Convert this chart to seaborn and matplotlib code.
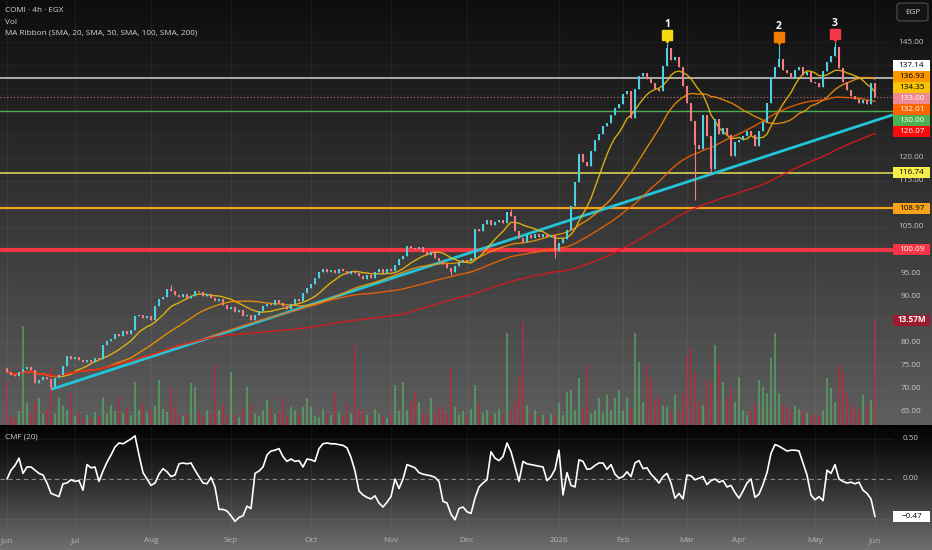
import numpy as np
import pandas as pd
import matplotlib
matplotlib.use("Agg")
import matplotlib.pyplot as plt
import seaborn as sns
from matplotlib import transforms
from matplotlib.colors import LinearSegmentedColormap
from matplotlib.patches import Rectangle, FancyBboxPatch

# ---- values (one candle here is about two 4h bars) ----
month_names = ["Jun", "Jul", "Aug", "Sep", "Oct", "Nov", "Dec",
               "2026", "Feb", "Mar", "Apr", "May", "Jun"]
month_first_bar = [0, 17, 36, 56, 76, 96, 115, 138, 154, 170, 183, 202, 217]

first_open = 74.5
closes = [
    # Jun
    73.6, 73.0, 72.8, 73.5, 74.3, 74.6, 74.0, 71.2, 71.8, 72.4, 72.0, 70.3,
    72.2, 73.0, 74.9, 77.0, 76.4,
    # Jul
    76.8, 76.2, 75.7, 76.1, 75.8, 76.5, 76.3, 79.4, 80.3, 80.8, 81.9, 81.4,
    82.4, 81.9, 82.6, 85.6, 86.0, 85.3, 85.8,
    # Aug
    84.9, 87.8, 89.3, 89.9, 91.6, 91.0, 90.2, 89.7, 90.4, 89.5, 90.1, 91.2,
    90.9, 90.0, 90.4, 89.5, 89.0, 89.4, 88.0, 87.3,
    # Sep
    87.6, 86.5, 86.9, 85.6, 85.9, 84.8, 86.0, 86.8, 87.9, 88.4, 88.1, 89.2,
    88.6, 87.9, 87.2, 88.3, 89.4, 89.0, 90.6, 91.8,
    # Oct
    92.6, 94.0, 95.3, 95.8, 95.2, 95.7, 95.1, 95.9, 95.4, 94.8, 95.5, 95.0,
    94.3, 93.8, 94.6, 94.0, 95.2, 95.8, 95.0, 95.9,
    # Nov
    95.4, 96.8, 98.0, 98.6, 100.9, 100.5, 100.1, 100.7, 99.6, 99.0, 99.5,
    98.3, 97.6, 96.9, 96.0, 95.2, 96.6, 97.3, 97.9,
    # Dec
    97.6, 98.2, 104.6, 104.0, 105.6, 106.4, 105.3, 106.0, 106.5, 105.8, 108.3,
    107.4, 104.0, 102.5, 101.8, 103.2, 102.6, 103.5, 102.8, 103.4, 102.9,
    103.3, 99.8,
    # Jan
    101.6, 102.4, 104.3, 109.5, 114.7, 120.8, 119.0, 118.2, 121.4, 123.8,
    125.2, 126.8, 127.5, 129.3, 130.8, 131.5,
    # Feb
    133.8, 134.4, 128.6, 134.9, 137.6, 138.4, 137.1, 136.2, 134.9, 134.3,
    139.8, 143.8, 141.2, 141.8, 139.6, 135.4,
    # Mar
    131.8, 128.0, 122.8, 121.8, 129.2, 124.6, 117.6, 128.4, 125.2, 126.3,
    124.8, 120.3, 123.4,
    # Apr
    123.9, 124.6, 125.8, 124.9, 122.6, 125.8, 127.6, 131.8, 137.4, 139.6,
    141.3, 139.0, 138.4, 137.2, 138.9, 139.5, 137.8, 138.6, 136.4,
    # May
    136.1, 135.2, 138.8, 140.6, 141.9, 143.9, 139.4, 136.3, 134.6, 133.4,
    132.6, 131.7, 132.5, 131.6, 136.2,
    # Jun
    133.0,
]
wick_high = {41: 92.3, 126: 108.9, 165: 144.8, 193: 144.3, 207: 145.0}
wick_low = {11: 69.8, 111: 94.6, 137: 98.2, 172: 110.8, 176: 116.4}

volume_m = [
    5.5, 1.2, 0.9, 1.8, 12.8, 2.8, 1.5, 3.0, 3.5, 1.4, 2.0, 7.4, 1.6, 3.6,
    2.4, 1.9, 4.3,
    1.1, 1.5, 0.9, 1.3, 0.8, 1.7, 1.2, 3.6, 1.4, 2.6, 1.8, 3.5, 1.6, 2.2,
    1.3, 5.5, 2.0, 2.8, 1.5,
    1.9, 2.5, 5.8, 2.1, 1.7, 4.9, 2.3, 1.4, 1.1, 1.6, 5.4, 4.9, 1.8, 1.2,
    2.0, 1.5, 7.7, 1.9, 2.6, 1.4,
    6.8, 1.3, 1.0, 2.2, 4.9, 2.8, 1.5, 1.1, 1.9, 3.2, 2.3, 1.4, 1.7, 3.5,
    1.2, 2.3, 1.9, 1.5, 2.3, 3.5,
    2.3, 1.2, 1.0, 2.1, 1.4, 1.3, 4.3, 1.6, 1.1, 2.8, 1.5, 10.3, 1.9, 2.0,
    1.3, 1.0, 2.1, 1.4, 1.2, 0.9,
    1.5, 5.2, 1.8, 5.6, 2.0, 3.0, 4.3, 3.0, 1.6, 1.3, 3.5, 1.7, 2.2, 2.4,
    1.5, 7.5, 2.3, 1.4, 1.8,
    1.2, 2.1, 5.2, 2.9, 1.6, 1.9, 1.3, 1.5, 2.1, 1.4, 11.9, 1.8, 3.2, 6.2,
    13.3, 2.6, 1.5, 1.9, 1.1, 1.3, 0.9, 1.4, 1.2,
    2.8, 1.3, 4.3, 4.5, 2.0, 6.1, 2.2, 7.7, 1.5, 1.9, 3.5, 1.6, 3.9, 2.0,
    3.5, 4.5,
    1.8, 3.6, 2.2, 11.9, 8.1, 3.0, 7.7, 6.1, 3.2, 3.9, 2.5, 2.3, 1.8, 3.9,
    2.0, 4.1,
    9.0, 10.1, 6.7, 3.0, 2.6, 5.8, 5.5, 10.3, 8.1, 5.5, 3.6, 4.8, 3.0,
    6.2, 2.0, 1.3, 1.9, 2.8, 5.8, 4.9, 4.1, 8.6, 11.9, 4.1, 2.6, 2.3, 1.9,
    2.4, 2.1, 1.8, 1.6, 1.4,
    1.2, 1.3, 2.0, 6.1, 4.8, 3.0, 7.7, 6.8, 4.3, 2.8, 2.2, 1.9, 3.9, 2.4,
    3.2,
    13.57,
]

cmf_values = [
    0.00, 0.11, 0.17, 0.26, 0.07, 0.15, 0.15, 0.11, 0.07, 0.05, -0.05, -0.18,
    -0.20, -0.22, -0.06, -0.05, -0.01,
    -0.03, -0.02, -0.14, 0.18, 0.14, 0.15, -0.03, 0.10, 0.21, 0.30, 0.40,
    0.45, 0.44, 0.47, 0.50, 0.54, 0.30, 0.08, 0.00,
    -0.08, -0.05, 0.06, 0.13, 0.09, 0.03, 0.05, 0.19, 0.20, 0.19, 0.20, 0.11,
    0.03, -0.05, -0.06, 0.02, -0.10, -0.38, -0.38, -0.40,
    -0.46, -0.53, -0.48, -0.46, -0.34, -0.37, 0.07, 0.10, 0.15, 0.30, 0.35,
    0.36, 0.38, 0.28, 0.22, 0.25, 0.22, 0.23, 0.15, 0.25,
    0.24, 0.22, 0.38, 0.44, 0.45, 0.44, 0.44, 0.43, 0.42, 0.39, 0.27, 0.10,
    -0.15, -0.20, -0.23, -0.25, -0.21, -0.30, -0.35, -0.29,
    -0.22, 0.00, -0.12, 0.00, 0.18, 0.16, 0.14, 0.08, 0.06, 0.05, 0.04, 0.02,
    -0.03, -0.28, -0.30, -0.44, -0.51, -0.37, -0.35,
    -0.41, -0.43, -0.24, -0.10, -0.05, -0.01, 0.34, 0.26, 0.23, 0.28, 0.45,
    0.34, 0.16, -0.03, 0.22, 0.19, 0.18, 0.17, 0.16, 0.15, -0.02, 0.03, 0.12,
    0.36, -0.20, 0.08, -0.08, -0.10, 0.24, 0.22, 0.12, 0.13, 0.17, 0.20,
    0.20, 0.12, 0.18, 0.06, 0.01,
    0.03, 0.09, 0.03, 0.20, 0.23, 0.13, 0.14, 0.06, 0.01, -0.05, 0.03, 0.07,
    -0.05, -0.24, -0.18, -0.25,
    0.05, 0.04, -0.01, 0.01, 0.03, -0.07, -0.02, 0.00, -0.04, -0.02, -0.10,
    -0.08, -0.17,
    -0.24, -0.15, -0.05, 0.00, -0.23, -0.19, -0.07, 0.08, 0.32, 0.43, 0.41,
    0.38, 0.35, 0.36, 0.36, 0.35, 0.20, 0.05, -0.20,
    -0.26, -0.22, -0.27, 0.11, 0.07, 0.18, 0.00, -0.03, -0.05, -0.04, -0.06,
    -0.04, -0.14, -0.18, -0.25,
    -0.47,
]

ribbon_periods = [20, 50, 100, 200]
ribbon_last = [134.35, 136.93, 132.01, 126.07]
levels = [137.14, 130.00, 116.74, 108.97, 100.09]
last_price = 133.00
last_volume = 13.57
last_cmf = -0.47

trend_bars = [11, 176]
trend_prices = [69.8, 116.4]

flag_bars = [165, 193, 207]
flag_names = ["1", "2", "3"]

# ---- styling ----
UP, DOWN = "#4dd0e1", "#f77c80"
ribbon_colors = ["#f6c309", "#fb9800", "#fb6500", "#e8141c"]
ribbon_fg = ["#000000", "#000000", "#ffffff", "#ffffff"]
level_colors = ["#c4c4c4", "#4caf50", "#d6cf56", "#f5a21b", "#f23645"]
level_widths = [1.2, 1.0, 1.2, 1.6, 3.0]
level_bg = ["#ffffff", "#4caf50", "#f5ee4a", "#f7a21b", "#f23645"]
level_fg = ["#000000", "#ffffff", "#000000", "#000000", "#ffffff"]
flag_colors = ["#f5d90a", "#f57c00", "#f23645"]

W, H = 932, 550
PANE_BOT, CMF_TOP, CMF_BOT = 425, 427, 530
PLOT_RIGHT, BAR0_X, BAR_PX = 893, 7, 4
TAG_L, TAG_R = 893, 930
FS = 5.9

sns.set_theme(style="dark")
plt.rcParams["font.family"] = ["Open Sans", "DejaVu Sans"]


def fx(px):
    return px / W


def fy(py):
    return 1 - py / H


df = pd.DataFrame({"bar": np.arange(len(closes)), "close": closes,
                   "volume": volume_m, "cmf": cmf_values})
df["open"] = [first_open] + closes[:-1]
df["up"] = df["close"] >= df["open"]
df["high"] = df[["open", "close"]].max(axis=1)
df["low"] = df[["open", "close"]].min(axis=1)
for b, v in wick_high.items():
    df.loc[b, "high"] = v
for b, v in wick_low.items():
    df.loc[b, "low"] = v

fig = plt.figure(figsize=(W / 100, H / 100), dpi=100, facecolor="#000000")


def gradient(y0, y1, c0, c1, gamma=1.0):
    bg = fig.add_axes([0, fy(y1), 1, (y1 - y0) / H], label=f"bg{y0}")
    bg.set_axis_off()
    g = np.linspace(0, 1, 256)[:, None] ** gamma
    cmap = LinearSegmentedColormap.from_list(f"g{y0}", [c0, c1])
    bg.imshow(g, aspect="auto", cmap=cmap, extent=[0, 1, 0, 1],
              origin="upper", vmin=0, vmax=1)
    bg.set_zorder(-10)


gradient(0, PANE_BOT, "#0d0d0d", "#5e5e5e")
gradient(CMF_TOP, H, "#050505", "#707070", gamma=1.25)

rect_main = [0, fy(PANE_BOT), fx(PLOT_RIGHT), PANE_BOT / H]
rect_cmf = [0, fy(CMF_BOT), fx(PLOT_RIGHT), (CMF_BOT - CMF_TOP) / H]
xlim = (-BAR0_X / BAR_PX, (PLOT_RIGHT - BAR0_X) / BAR_PX)
price_lim = (62.1, 154.1)
vol_lim = (0, last_volume * PANE_BOT / 105)
cmf_lim = (-0.6375, 0.65)

vax = fig.add_axes(rect_main, label="vol")
ax = fig.add_axes(rect_main, label="price")
cax = fig.add_axes(rect_cmf, label="cmf")
for a in (vax, ax, cax):
    a.set_facecolor("none")
    a.set_xlim(*xlim)
    a.set_xticks([])
    a.set_yticks([])
    a.grid(False)
    for s in a.spines.values():
        s.set_visible(False)
ax.set_ylim(*price_lim)
vax.set_ylim(*vol_lim)
cax.set_ylim(*cmf_lim)

# grid
for b in month_first_bar:
    ax.axvline(b, color="white", alpha=0.05, lw=1, zorder=0)
    cax.axvline(b, color="white", alpha=0.05, lw=1, zorder=0)
for p in range(65, 150, 5):
    ax.axhline(p, color="white", alpha=0.035, lw=1, zorder=0)
for v in (0.5, -0.5):
    cax.axhline(v, color="white", alpha=0.05, lw=1, zorder=0)

# volume
vol_colors = [(0.33, 0.72, 0.40, 0.6) if u else (0.72, 0.16, 0.24, 0.72)
              for u in df["up"]]
vax.bar(df["bar"], df["volume"], width=0.42, color=vol_colors,
        linewidth=0, zorder=1)

# horizontal levels and last price line
for lv, c, lw in zip(levels, level_colors, level_widths):
    ax.axhline(lv, color=c, lw=lw, zorder=2)
ax.axhline(last_price, color="#f08a93", lw=0.8, ls=(0, (1, 2)), alpha=0.8,
           zorder=2)

# trend line from the two anchors, carried to the right edge
slope = (trend_prices[1] - trend_prices[0]) / (trend_bars[1] - trend_bars[0])
x_end = xlim[1]
ax.plot([trend_bars[0], x_end],
        [trend_prices[0], trend_prices[0] + slope * (x_end - trend_bars[0])],
        color="#22c4d8", lw=2, zorder=3, solid_capstyle="butt")

# MA ribbon (periods halved because each candle holds ~two 4h bars)
for period, c in zip(ribbon_periods, ribbon_colors):
    sma = df["close"].rolling(period // 2, min_periods=1).mean()
    sns.lineplot(x=df["bar"], y=sma, ax=ax, color=c, lw=1.0, alpha=0.85,
                 zorder=3)

# candles
cols = [UP if u else DOWN for u in df["up"]]
ax.vlines(df["bar"], df["low"], df["high"], colors=cols, lw=0.8, zorder=4)
body = (df["close"] - df["open"]).where(
    (df["close"] - df["open"]).abs() > 0.2, 0.2)
ax.bar(df["bar"], body, bottom=df["open"], width=0.62, color=cols,
       linewidth=0, zorder=4)

# flags above the three tops
for b, name, c in zip(flag_bars, flag_names, flag_colors):
    y = df.loc[b, "high"] + 1.7
    ax.plot(b, y, marker="s", ms=6.5, color=c, mec=c, zorder=6)
    ax.plot(b, y - 1.1, marker="v", ms=3.5, color=c, mec=c, zorder=6)
    ax.text(b, y + 2.4, name, ha="center", va="center", color="white",
            fontsize=7.5, fontweight="bold", zorder=6)

# CMF
cax.axhline(0, color="#8c8c8c", lw=0.8, ls=(0, (4, 3)), zorder=1)
sns.lineplot(x=df["bar"], y=df["cmf"], ax=cax, color="white", lw=1.2,
             zorder=3)

for a in (vax, ax, cax):
    a.set_xlabel("")
    a.set_ylabel("")
    a.set_autoscale_on(False)
ax.set_xlim(*xlim)
ax.set_ylim(*price_lim)
vax.set_xlim(*xlim)
vax.set_ylim(*vol_lim)
cax.set_xlim(*xlim)
cax.set_ylim(*cmf_lim)


def stack(values, gap):
    order = sorted(range(len(values)), key=lambda k: -values[k])
    groups = [[k] for k in order]

    def place(g):
        c = np.mean([values[k] for k in g])
        return [c + gap * ((len(g) - 1) / 2 - j) for j in range(len(g))]

    merged = True
    while merged:
        merged = False
        for i in range(len(groups) - 1):
            if place(groups[i])[-1] - place(groups[i + 1])[0] < gap:
                groups[i] = groups[i] + groups[i + 1]
                del groups[i + 1]
                merged = True
                break
    pos = [0.0] * len(values)
    for g in groups:
        for k, p in zip(g, place(g)):
            pos[k] = p
    return pos


def tag(axis, y, text, bg, fg, h, bold=False):
    tr = transforms.blended_transform_factory(fig.transFigure, axis.transData)
    axis.add_patch(Rectangle((fx(TAG_L), y - h / 2), fx(TAG_R) - fx(TAG_L),
                             h, transform=tr, facecolor=bg, edgecolor="none",
                             clip_on=False, zorder=20))
    axis.text(fx((TAG_L + TAG_R) / 2), y, text, transform=tr, ha="center",
              va="center", color=fg, fontsize=FS, clip_on=False, zorder=21,
              fontweight="bold" if bold else "normal")


# right side tags, stacked the way the price scale does it
tag_vals = levels + ribbon_last + [last_price]
tag_bg = level_bg + ribbon_colors[:3] + ["#f60c0c", "#f08a93"]
tag_fg = level_fg + ribbon_fg + ["#ffffff"]
px_per_price = PANE_BOT / (price_lim[1] - price_lim[0])
tag_h = 11 / px_per_price
tag_pos = stack(tag_vals, tag_h)
for y, v, bg, fg in zip(tag_pos, tag_vals, tag_bg, tag_fg):
    tag(ax, y, f"{v:.2f}", bg, fg, tag_h)

vol_h = 11 * (vol_lim[1] - vol_lim[0]) / PANE_BOT
tag(vax, last_volume, f"{last_volume:.2f}M", "#9c1a2e", "#ffffff", vol_h,
    bold=True)
vol_tag_price = price_lim[0] + last_volume / vol_lim[1] * (
    price_lim[1] - price_lim[0])

# right price scale, hiding ticks that sit under a tag
ptr = transforms.blended_transform_factory(fig.transFigure, ax.transData)
covered = tag_pos + [vol_tag_price]
for p in range(65, 147, 5):
    if min(abs(p - c) for c in covered) * px_per_price < 7.5:
        continue
    ax.text(fx(911), p, f"{p:.2f}", transform=ptr, ha="center", va="center",
            color="#c6c6c6", fontsize=FS, clip_on=False, zorder=15)

ctr = transforms.blended_transform_factory(fig.transFigure, cax.transData)
for v in (0.5, 0.0):
    cax.text(fx(911), v, f"{v:.2f}", transform=ctr, ha="center",
             va="center", color="#c6c6c6", fontsize=FS, clip_on=False)
cmf_h = 11 * (cmf_lim[1] - cmf_lim[0]) / (CMF_BOT - CMF_TOP)
tag(cax, last_cmf, f"\u2212{abs(last_cmf):.2f}", "#ffffff", "#000000", cmf_h)

# time axis
ttr = transforms.blended_transform_factory(cax.transData, fig.transFigure)
for name, b in zip(month_names, month_first_bar):
    cax.text(b, fy(541), name, transform=ttr, ha="center", va="center",
             color="#b4b4b4", fontsize=FS, clip_on=False)

# header texts
for txt, yp in [("COMI \u00b7 4h \u00b7 EGX", 11), ("Vol", 22),
                ("MA Ribbon (SMA, 20, SMA, 50, SMA, 100, SMA, 200)", 33)]:
    fig.text(fx(5), fy(yp), txt, ha="left", va="center", color="#d4d4d4",
             fontsize=FS)
fig.text(fx(5), fy(437), "CMF (20)", ha="left", va="center",
         color="#d0d0d0", fontsize=FS)

fig.add_artist(FancyBboxPatch((fx(897), fy(21)), fx(928) - fx(897), 18 / H,
                              boxstyle="round,pad=0,rounding_size=0.004",
                              transform=fig.transFigure, facecolor="#141414",
                              edgecolor="#4e4e4e", lw=0.8))
fig.text(fx(912.5), fy(12), "EGP", ha="center", va="center",
         color="#d4d4d4", fontsize=FS)

fig.savefig("out.png", dpi=100, facecolor=fig.get_facecolor())
